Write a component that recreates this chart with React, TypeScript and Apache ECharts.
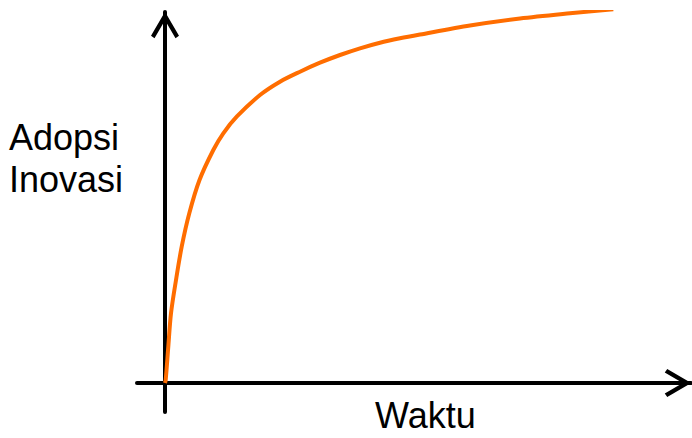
import React, { useEffect, useRef } from "react";
import * as echarts from "echarts";

// Curve (x = time, y = adoption), in chart units
const timeValues = [0, 0.7, 3.3, 6, 11, 16.7, 24.3, 34.5, 48.3, 58.3, 71.7, 95, 115, 135, 155, 175, 195, 215, 235, 255, 305, 355, 405, 448.3];
const adoptionValues = [0, 3, 36.3, 69.7, 103, 136.3, 169.7, 203, 233, 249.7, 266.3, 288, 301.3, 311.3, 320.3, 328, 334.7, 340.3, 344.7, 348.5, 357.5, 364.5, 369.7, 373.7];
const yLabelLines = ["Adopsi", "Inovasi"];
const xLabel = "Waktu";

const chevron = "path://M14,0 L28,24 L24.5,26.5 L14,8.5 L3.5,26.5 L0,24 Z";

export default function App() {
  const ref = useRef<HTMLDivElement>(null);
  useEffect(() => {
    if (!ref.current) return;
    const chart = echarts.init(ref.current, undefined, { renderer: "svg" });
    const font = "'Liberation Sans', Arial, sans-serif";
    chart.setOption({
      animation: false,
      backgroundColor: "#ffffff",
      grid: { left: 137, right: 1, top: 12, bottom: 26 },
      xAxis: {
        type: "value",
        min: -28,
        max: 526,
        axisLine: {
          onZero: true,
          lineStyle: { color: "#000", width: 4, cap: "round" },
          symbol: ["none", chevron],
          symbolSize: [28, 27],
          symbolOffset: [0, -13],
        },
        axisTick: { show: false },
        axisLabel: { show: false },
        splitLine: { show: false },
      },
      yAxis: {
        type: "value",
        min: -29,
        max: 371,
        axisLine: {
          onZero: true,
          lineStyle: { color: "#000", width: 4, cap: "round" },
          symbol: ["none", chevron],
          symbolSize: [28, 27],
          symbolOffset: [0, -13],
        },
        axisTick: { show: false },
        axisLabel: { show: false },
        splitLine: { show: false },
      },
      series: [
        {
          type: "line",
          data: timeValues.map((t, i) => [t, adoptionValues[i]]),
          smooth: 0.3,
          showSymbol: false,
          lineStyle: { color: "#ff6d00", width: 4 },
          z: 3,
        },
      ],
      graphic: [
        {
          type: "text",
          left: 9,
          top: 116,
          style: {
            text: yLabelLines.join("\n"),
            font: `36px ${font}`,
            lineHeight: 42,
            fill: "#000",
          },
        },
        {
          type: "text",
          left: 375,
          top: 397,
          style: { text: xLabel, font: `36px ${font}`, fill: "#000" },
        },
      ],
    });
    return () => chart.dispose();
  }, []);
  return (
    <div
      ref={ref}
      style={{ position: "fixed", left: 0, top: 0, width: 692, height: 438 }}
    />
  );
}
